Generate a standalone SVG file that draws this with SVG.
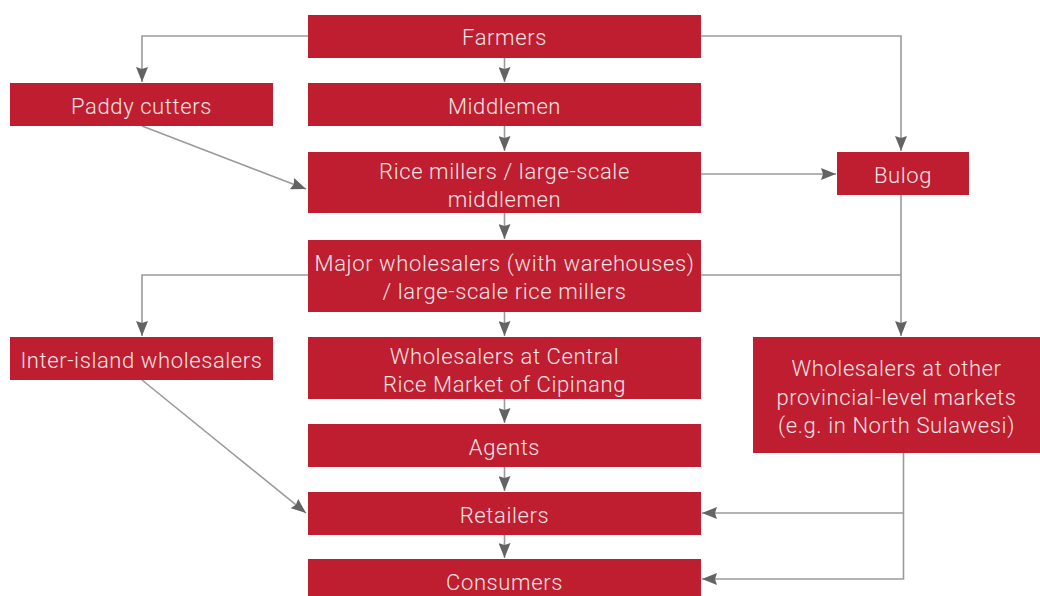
<svg xmlns="http://www.w3.org/2000/svg" width="1040" height="596" viewBox="0 0 1040 596">
<style>
.box{fill:#be1e2f}
.t{fill:#f6e4e6;font-family:Roboto,"Liberation Sans",sans-serif;font-size:22px;font-weight:300;letter-spacing:0.6px;text-anchor:middle}
.c{fill:none;stroke:#9a9a9a;stroke-width:1.6}
</style>
<defs>
<marker id="ah" markerUnits="userSpaceOnUse" markerWidth="16" markerHeight="12" refX="15" refY="6" orient="auto">
<path d="M0,0 L15,6 L0,12 L2,6 z" fill="#636466"/>
</marker>
</defs>
<rect width="1040" height="596" fill="#fff"/>
<g id="connectors">
<path class="c" d="M308,36 H142 V82" marker-end="url(#ah)"/>
<path class="c" d="M701,36 H901 V151" marker-end="url(#ah)"/>
<path class="c" d="M504.5,58 V82" marker-end="url(#ah)"/>
<path class="c" d="M504.5,126 V151" marker-end="url(#ah)"/>
<path class="c" d="M142,126 L306,189" marker-end="url(#ah)"/>
<path class="c" d="M701,174 H836" marker-end="url(#ah)"/>
<path class="c" d="M504.5,213 V239" marker-end="url(#ah)"/>
<path class="c" d="M308,275 H142 V336" marker-end="url(#ah)"/>
<path class="c" d="M901,195 V336" marker-end="url(#ah)"/>
<path class="c" d="M701,275 H901"/>
<path class="c" d="M504.5,312 V336" marker-end="url(#ah)"/>
<path class="c" d="M504.5,399 V423" marker-end="url(#ah)"/>
<path class="c" d="M504.5,467 V491" marker-end="url(#ah)"/>
<path class="c" d="M142,380 L306,513" marker-end="url(#ah)"/>
<path class="c" d="M504.5,535 V558" marker-end="url(#ah)"/>
<path class="c" d="M903.5,453 V579 H702" marker-end="url(#ah)"/>
<path class="c" d="M903.5,513 H702" marker-end="url(#ah)"/>
</g>
<g id="farmers"><rect class="box" x="308" y="15" width="393" height="43"/><text class="t" x="504.5" y="45">Farmers</text></g>
<g id="paddy-cutters"><rect class="box" x="10" y="83" width="263" height="43"/><text class="t" x="141.5" y="113.5">Paddy cutters</text></g>
<g id="middlemen"><rect class="box" x="308" y="83" width="393" height="43"/><text class="t" x="504.5" y="113.5">Middlemen</text></g>
<g id="rice-millers"><rect class="box" x="308" y="152" width="393" height="61"/><text class="t" x="504.5" y="178.5">Rice millers / large-scale</text><text class="t" x="504.5" y="206.5">middlemen</text></g>
<g id="bulog"><rect class="box" x="837" y="152" width="132" height="43"/><text class="t" x="903" y="182.5">Bulog</text></g>
<g id="major-wholesalers"><rect class="box" x="308" y="240" width="393" height="72"/><text class="t" x="504.5" y="271">Major wholesalers (with warehouses)</text><text class="t" x="504.5" y="299">/ large-scale rice millers</text></g>
<g id="inter-island"><rect class="box" x="10" y="337" width="263" height="43"/><text class="t" x="141.5" y="367.5">Inter-island wholesalers</text></g>
<g id="central-market"><rect class="box" x="308" y="337" width="393" height="62"/><text class="t" x="504.5" y="363.5">Wholesalers at Central</text><text class="t" x="504.5" y="391.5">Rice Market of Cipinang</text></g>
<g id="other-wholesalers"><rect class="box" x="753" y="337" width="287" height="116"/><text class="t" x="896.5" y="376">Wholesalers at other</text><text class="t" x="896.5" y="404.5">provincial-level markets</text><text class="t" x="896.5" y="433">(e.g. in North Sulawesi)</text></g>
<g id="agents"><rect class="box" x="308" y="424" width="393" height="43"/><text class="t" x="504.5" y="454.5">Agents</text></g>
<g id="retailers"><rect class="box" x="308" y="492" width="393" height="43"/><text class="t" x="504.5" y="522.5">Retailers</text></g>
<g id="consumers"><rect class="box" x="308" y="559" width="393" height="44"/><text class="t" x="504.5" y="590">Consumers</text></g>
</svg>
